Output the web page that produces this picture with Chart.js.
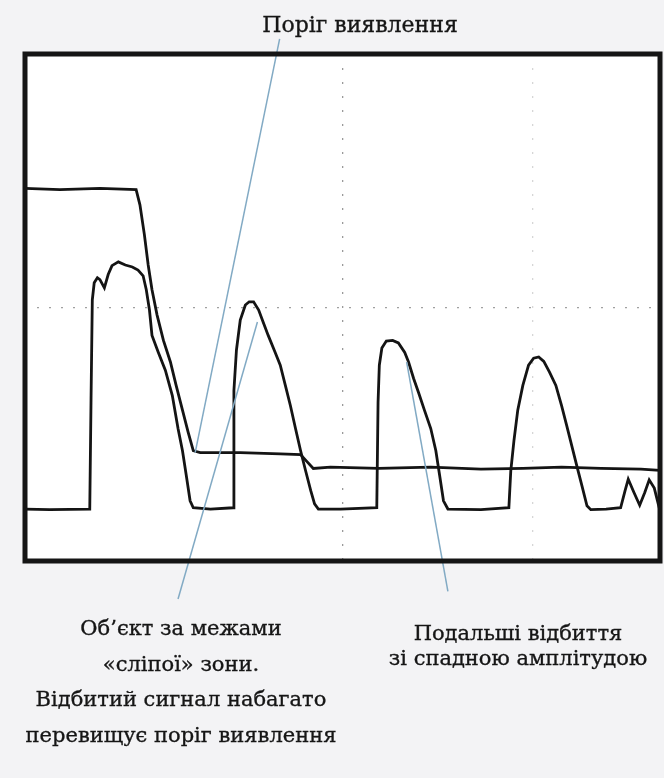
<!DOCTYPE html>
<html lang="uk">
<head>
<meta charset="utf-8">
<script src="https://cdn.jsdelivr.net/npm/chart.js@4.4.1/dist/chart.umd.min.js"></script>
<style>
  html, body { margin: 0; padding: 0; background: #f3f3f5; }
  #wrap { position: relative; width: 664px; height: 778px; overflow: hidden; }
  #scope { position: absolute; left: 0; top: 0; }
  .lbl {
    position: absolute;
    font-family: 'DejaVu Serif', serif;
    color: #161616;
    white-space: nowrap;
    transform: translateX(-50%);
    text-align: center;
    -webkit-text-stroke: 0.35px #161616;
  }
</style>
</head>
<body>
<div id="wrap">
  <canvas id="scope" width="664" height="778"></canvas>
  <div class="lbl" style="left:360px; top:11px; font-size:22px; line-height:28px;">Поріг виявлення</div>
  <div class="lbl" style="left:181px; top:611px; font-size:21px; line-height:35.6px;">
    Об’єкт за межами<br>«сліпої» зони.<br>Відбитий сигнал набагато<br>перевищує поріг виявлення
  </div>
  <div class="lbl" style="left:518px; top:621px; font-size:21px; line-height:25px;">
    Подальші відбиття<br>зі спадною амплітудою
  </div>
</div>
<script>
// oscilloscope screen: 10 horizontal x 8 vertical divisions
// threshold (detection level) trace, [div, div]
const thresholdTrace = [
  [0, 1.88], [0.55, 1.86], [1.18, 1.88], [1.75, 1.86], [1.81, 1.62], [1.88, 1.15],
  [1.94, 0.67], [2.00, 0.28], [2.08, -0.12], [2.18, -0.52], [2.29, -0.86], [2.38, -1.23],
  [2.48, -1.62], [2.57, -1.97], [2.65, -2.26], [2.76, -2.29], [3.39, -2.29], [4.02, -2.31],
  [4.34, -2.32], [4.43, -2.42], [4.54, -2.54], [4.81, -2.52], [5.57, -2.54], [6.39, -2.52],
  [7.18, -2.55], [7.84, -2.54], [8.45, -2.52], [9.07, -2.54], [9.70, -2.55], [10, -2.57]
];

// received echo signal
const echoTrace = [
  [0, -3.18], [0.39, -3.19], [1.02, -3.18], [1.04, -1.45], [1.06, 0.12], [1.09, 0.39],
  [1.14, 0.47], [1.18, 0.44], [1.25, 0.31], [1.31, 0.52], [1.37, 0.66], [1.47, 0.72],
  [1.58, 0.67], [1.69, 0.64], [1.78, 0.59], [1.86, 0.50], [1.91, 0.28], [1.96, -0.04],
  [2.00, -0.44], [2.10, -0.71], [2.21, -0.99], [2.32, -1.39], [2.41, -1.91], [2.48, -2.26],
  [2.54, -2.65], [2.60, -3.05], [2.65, -3.16], [2.92, -3.18], [3.28, -3.16], [3.29, -1.31],
  [3.33, -0.67], [3.39, -0.20], [3.47, 0.04], [3.53, 0.09], [3.60, 0.09], [3.68, -0.04],
  [3.75, -0.23], [3.83, -0.44], [3.94, -0.71], [4.02, -0.91], [4.10, -1.23], [4.18, -1.55],
  [4.26, -1.91], [4.34, -2.26], [4.42, -2.58], [4.50, -2.89], [4.56, -3.10], [4.62, -3.18],
  [4.97, -3.18], [5.54, -3.16], [5.56, -1.50], [5.58, -0.91], [5.62, -0.64], [5.69, -0.53],
  [5.79, -0.52], [5.88, -0.56], [5.98, -0.71], [6.04, -0.86], [6.12, -1.12], [6.20, -1.35],
  [6.29, -1.62], [6.39, -1.91], [6.47, -2.26], [6.53, -2.65], [6.59, -3.05], [6.66, -3.18],
  [7.18, -3.19], [7.62, -3.16], [7.65, -2.58], [7.70, -2.10], [7.76, -1.62], [7.84, -1.23],
  [7.93, -0.91], [8.01, -0.80], [8.09, -0.78], [8.17, -0.85], [8.26, -1.02], [8.36, -1.23],
  [8.45, -1.55], [8.53, -1.86], [8.61, -2.18], [8.69, -2.50], [8.77, -2.81], [8.85, -3.13],
  [8.91, -3.19], [9.15, -3.18], [9.38, -3.16], [9.45, -2.89], [9.50, -2.71], [9.59, -2.92],
  [9.68, -3.12], [9.76, -2.92], [9.83, -2.72], [9.91, -2.85], [10, -3.21]
];

// callout leader lines (label end -> trace end)
const leaderThreshold = [[4.01, 4.24], [2.68, -2.29]];
const leaderBlindZone = [[3.66, -0.23], [2.41, -4.60]];
const leaderFurther = [[6.01, -0.86], [6.66, -4.48]];

const toXY = arr => arr.map(([x, y]) => ({ x, y }));

const framePlugin = {
  id: 'frame',
  beforeDraw(chart) {
    const { ctx, chartArea: a } = chart;
    ctx.save();
    ctx.fillStyle = '#ffffff';
    ctx.fillRect(a.left, a.top, a.width, a.height);
    ctx.restore();
  },
  afterDraw(chart) {
    const { ctx, chartArea: a } = chart;
    ctx.save();
    ctx.strokeStyle = '#151515';
    ctx.lineWidth = 5;
    ctx.strokeRect(a.left, a.top, a.width, a.height);
    ctx.restore();
  }
};

const trace = (data, order) => ({
  data: toXY(data), showLine: true, borderColor: '#141414', borderWidth: 2.8,
  pointRadius: 0, tension: 0, order
});
const leader = data => ({
  data: toXY(data), showLine: true, borderColor: '#82aac4', borderWidth: 1.5,
  pointRadius: 0, clip: false, order: 0
});

new Chart(document.getElementById('scope'), {
  type: 'scatter',
  data: {
    datasets: [
      leader(leaderThreshold),
      leader(leaderBlindZone),
      leader(leaderFurther),
      trace(thresholdTrace, 2),
      trace(echoTrace, 1)
    ]
  },
  options: {
    responsive: false,
    animation: false,
    devicePixelRatio: 1,
    layout: { padding: { left: 25, right: 4, top: 54, bottom: 217 } },
    plugins: { legend: { display: false }, tooltip: { enabled: false } },
    scales: {
      x: {
        type: 'linear', min: 0, max: 10,
        ticks: { display: false, stepSize: 1 },
        border: { display: false, dash: [2, 12] },
        grid: {
          drawTicks: false, lineWidth: 1.3,
          color: c => c.tick.value === 5 ? '#9a9a9a' : (c.tick.value === 8 ? '#d6d6d6' : 'rgba(0,0,0,0)')
        }
      },
      y: {
        type: 'linear', min: -4, max: 4,
        ticks: { display: false, stepSize: 1 },
        border: { display: false, dash: [2, 10] },
        grid: {
          drawTicks: false, lineWidth: 1.3,
          color: c => c.tick.value === 0 ? '#a0a0a0' : 'rgba(0,0,0,0)'
        }
      }
    }
  },
  plugins: [framePlugin]
});
</script>
</body>
</html>
